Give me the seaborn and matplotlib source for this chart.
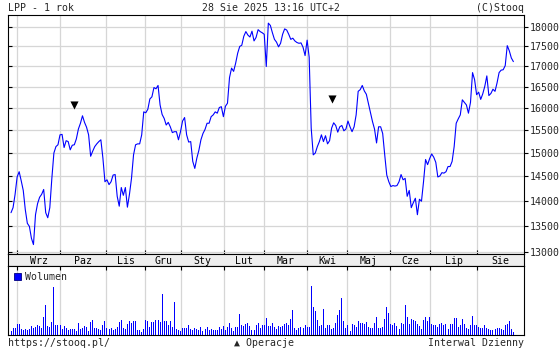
import matplotlib
matplotlib.use('Agg')
import matplotlib.pyplot as plt
import seaborn as sns
import numpy as np
import pandas as pd
from matplotlib.patches import Patch
from matplotlib.ticker import NullLocator

# ---------------- texts ----------------
title_left = "LPP - 1 rok"
title_center = "28 Sie 2025 13:16 UTC+2"
title_right = "(C)Stooq"
footer_left = "https://stooq.pl/"
footer_center = "\u25b2 Operacje"
footer_right = "Interwal Dzienny"
volume_label = "Wolumen"

# ---------------- data (daily, trading-day index) ----------------
price = [
    13760, 13860, 14130, 14490, 14600, 14410, 14210, 13820, 13550, 13490,
    13260, 13140, 13720, 13940, 14070, 14130, 14230, 13760, 13660, 13860,
    14460, 15000, 15140, 15180, 15400, 15410, 15120, 15270, 15250, 15070,
    15170, 15180, 15310, 15530, 15660, 15830, 15680, 15570, 15400, 14930,
    15040, 15140, 15200, 15250, 15290, 14890, 14390, 14430, 14330, 14390,
    14530, 14540, 14090, 13890, 14270, 14110, 14270, 13870, 14130, 14460,
    14960, 15180, 15200, 15200, 15400, 15920, 15900, 15980, 16220, 16270,
    16490, 16460, 16540, 16080, 15860, 15770, 15620, 15680, 15580, 15450,
    15470, 15470, 15290, 15470, 15710, 15790, 15400, 15240, 15250, 14820,
    14670, 14890, 15060, 15290, 15430, 15520, 15660, 15660, 15810, 15850,
    15920, 15890, 16020, 16040, 15810, 16050, 16120, 16730, 16960, 16880,
    17080, 17330, 17500, 17530, 17760, 17880, 17790, 17740, 17890, 17640,
    17730, 17930, 17880, 17850, 17810, 17000, 18100, 18040, 17850, 17680,
    17610, 17490, 17580, 17810, 17950, 17920, 17810, 17680, 17710, 17640,
    17600, 17580, 17590, 17480, 17270, 17660, 17230, 15550, 14960, 15000,
    15140, 15250, 15400, 15250, 15380, 15200, 15270, 15550, 15670, 15610,
    15460, 15580, 15610, 15490, 15530, 15710, 15580, 15470, 15580, 15850,
    16400, 16440, 16540, 16410, 16330, 16120, 15910, 15700, 15530, 15220,
    15580, 15580, 15430, 14960, 14530, 14390, 14290, 14310, 14300, 14310,
    14390, 14540, 14430, 14460, 14090, 14210, 13860, 13960, 14050, 13720,
    14030, 13990, 14390, 14860, 14750, 14880, 14980, 14910, 14800, 14490,
    14510, 14580, 14570, 14600, 14710, 14710, 14820, 15140, 15660, 15760,
    15850, 16200, 16140, 16080, 15890, 16140, 16850, 16680, 16320, 16380,
    16210, 16340, 16520, 16770, 16300, 16350, 16450, 16400, 16600, 16850,
    16910, 16920, 17020, 17520, 17390, 17210, 17120,
]

volume = [
    12, 21, 21, 33, 33, 18, 15, 18, 16, 18,
    27, 21, 24, 30, 27, 21, 54, 90, 27, 24,
    39, 144, 30, 30, 30, 18, 27, 21, 15, 18,
    18, 18, 12, 36, 18, 21, 27, 24, 12, 39,
    45, 21, 21, 18, 15, 30, 42, 21, 18, 21,
    15, 18, 24, 39, 45, 21, 18, 33, 42, 36,
    42, 42, 15, 15, 9, 18, 45, 42, 24, 39,
    39, 45, 45, 39, 123, 42, 42, 30, 42, 24,
    99, 18, 15, 12, 21, 21, 21, 30, 18, 15, 21,
    18, 15, 24, 12, 18, 24, 15, 18, 15,
    15, 15, 24, 18, 27, 15, 24, 36, 21, 12, 24, 24, 63, 30, 27, 33, 36,
    27, 15, 15, 30, 36, 21, 30, 30, 51,
    28, 27, 36, 24, 18, 27, 24, 27, 33, 36,
    30, 48, 75, 21, 15, 21, 24, 21, 30, 24,
    24, 147, 84, 72, 45, 27, 30, 78, 21, 30,
    30, 18, 21, 36, 60, 75, 111, 42, 21, 30,
    12, 33, 30, 24, 42, 36,
    36, 33, 39,
    24, 21, 21, 36, 54, 21, 21, 24, 48, 84,
    66, 33, 30, 36, 27, 18, 36, 33, 90, 54,
    33, 48, 45, 42, 33, 27, 18, 45, 54, 42,
    54, 33, 30, 30, 24, 33, 36, 30, 33, 18,
    33, 33, 51, 51, 24, 30, 48, 33, 21, 18,
    30, 57, 30, 30, 24, 21, 21, 30, 21, 18,
    15, 15, 18, 21, 21, 18, 15, 30, 33, 42, 18, 9,
]

month_labels = ["Wrz", "Paz", "Lis", "Gru", "Sty", "Lut",
                "Mar", "Kwi", "Maj", "Cze", "Lip", "Sie"]
month_starts = [3.1, 24.1, 46.7, 65.8, 83.4, 104.5,
                124.0, 145.1, 164.7, 185.7, 205.3, 228.3]
y_ticks = [13000, 13500, 14000, 14500, 15000, 15500,
           16000, 16500, 17000, 17500, 18000]
event_index = [30.7, 157.4]
event_level = [16070, 16210]

# ---------------- style ----------------
sns.set_style("white")
plt.rcParams['font.family'] = ['DejaVu Sans Mono', 'DejaVu Sans']
FS = 7.1
GRID = '#d6d6d6'
BLUE = '#0000ff'
SPW = 0.8

W, H = 560, 350
fig = plt.figure(figsize=(W / 100, H / 100), dpi=100)
fig.patch.set_facecolor('white')


def rect(l, t, r, b):
    return [l / W, 1 - b / H, (r - l) / W, (b - t) / H]


ax = fig.add_axes(rect(8, 15, 524, 254))
band = fig.add_axes(rect(8, 254, 524, 266))
axv = fig.add_axes(rect(8, 266, 524, 335))

xlim = (-1.47, 251.2)
px_per_unit = 516 / (xlim[1] - xlim[0])
df = pd.DataFrame({'idx': np.arange(len(price)), 'price': price,
                   'volume': volume})

# ---------------- price panel ----------------
sns.lineplot(data=df, x='idx', y='price', ax=ax, color=BLUE,
             linewidth=0.8, errorbar=None, zorder=3)
sns.scatterplot(x=event_index, y=event_level, ax=ax, marker='v',
                color='black', s=34, linewidth=0, zorder=4)
ax.set_yscale('log')
ax.set_ylim(12962, 18314)
ax.set_xlim(*xlim)
ax.set_xlabel('')
ax.set_ylabel('')
ax.set_xticks(month_starts)
ax.set_xticklabels([])
ax.set_yticks(y_ticks)
ax.set_yticklabels([])
ax.yaxis.set_minor_locator(NullLocator())
ax.grid(True, color=GRID, linewidth=0.9)
ax.set_axisbelow(True)
ax.tick_params(axis='x', which='both', direction='in', length=3,
               width=SPW, color='black', bottom=True, top=False,
               labelbottom=False)
ax.tick_params(axis='y', which='both', direction='in', length=3,
               width=SPW, color='black', left=True, right=False,
               labelleft=False)
for s in ax.spines.values():
    s.set_color('black')
    s.set_linewidth(SPW)

ax2 = ax.twinx()
ax2.set_yscale('log')
ax2.set_ylim(ax.get_ylim())
ax2.set_yticks(y_ticks)
ax2.set_yticklabels([str(v) for v in y_ticks])
ax2.yaxis.set_minor_locator(NullLocator())
ax2.tick_params(axis='y', which='both', direction='out', length=3,
                width=SPW, color='black', labelsize=FS, pad=1.2,
                right=True, left=False)
ax2.grid(False)
for s in ax2.spines.values():
    s.set_visible(False)

# ---------------- month band ----------------
band.set_facecolor('#eeeeee')
band.set_xlim(*xlim)
band.set_ylim(0, 1)
band.set_xticks([])
band.set_yticks([])
for s in band.spines.values():
    s.set_color('black')
    s.set_linewidth(SPW)
ends = month_starts[1:] + [xlim[1]]
for lab, a, b in zip(month_labels, month_starts, ends):
    band.text((a + b) / 2, 0.14, lab, transform=band.get_xaxis_transform(),
              ha='center', va='baseline', fontsize=FS, color='black')

# ---------------- volume panel ----------------
# bar width of exactly one pixel, so snapped bars render as crisp 1px columns
sns.barplot(data=df, x='idx', y='volume', ax=axv, native_scale=True,
            color=BLUE, saturation=1, width=1.0 / px_per_unit,
            errorbar=None, edgecolor='none', linewidth=0, zorder=3)
for p in axv.patches:
    p.set_facecolor(BLUE)
    p.set_edgecolor('none')
    p.set_linewidth(0)
axv.set_xlim(*xlim)
axv.set_ylim(0, 207)
axv.set_xlabel('')
axv.set_ylabel('')
axv.set_yticks([])
axv.set_xticks(month_starts)
axv.set_xticklabels([])
axv.grid(True, axis='x', color=GRID, linewidth=0.9)
axv.grid(False, axis='y')
axv.set_axisbelow(True)
axv.tick_params(axis='x', direction='in', length=3, width=SPW,
                color='black', top=True, bottom=False, labelbottom=False)
for s in axv.spines.values():
    s.set_color('black')
    s.set_linewidth(SPW)
axv.legend(handles=[Patch(facecolor=BLUE, edgecolor='#000080',
                          linewidth=0.6, label=volume_label)],
           loc='upper left', frameon=False, fontsize=FS,
           handlelength=0.7, handleheight=0.7, handletextpad=0.4,
           borderaxespad=0.3, borderpad=0.3)

# ---------------- header / footer ----------------
fig.text(8 / W, 1 - 10.6 / H, title_left, ha='left', va='baseline',
         fontsize=FS)
fig.text(271 / W, 1 - 10.6 / H, title_center, ha='center', va='baseline',
         fontsize=FS)
fig.text(524.5 / W, 1 - 10.6 / H, title_right, ha='right', va='baseline',
         fontsize=FS)
fig.text(8 / W, 1 - 346.3 / H, footer_left, ha='left', va='baseline',
         fontsize=FS)
fig.text(234 / W, 1 - 346.3 / H, footer_center, ha='left', va='baseline',
         fontsize=FS)
fig.text(524.5 / W, 1 - 346.3 / H, footer_right, ha='right', va='baseline',
         fontsize=FS)

fig.savefig('out.png', dpi=100, facecolor='white')
